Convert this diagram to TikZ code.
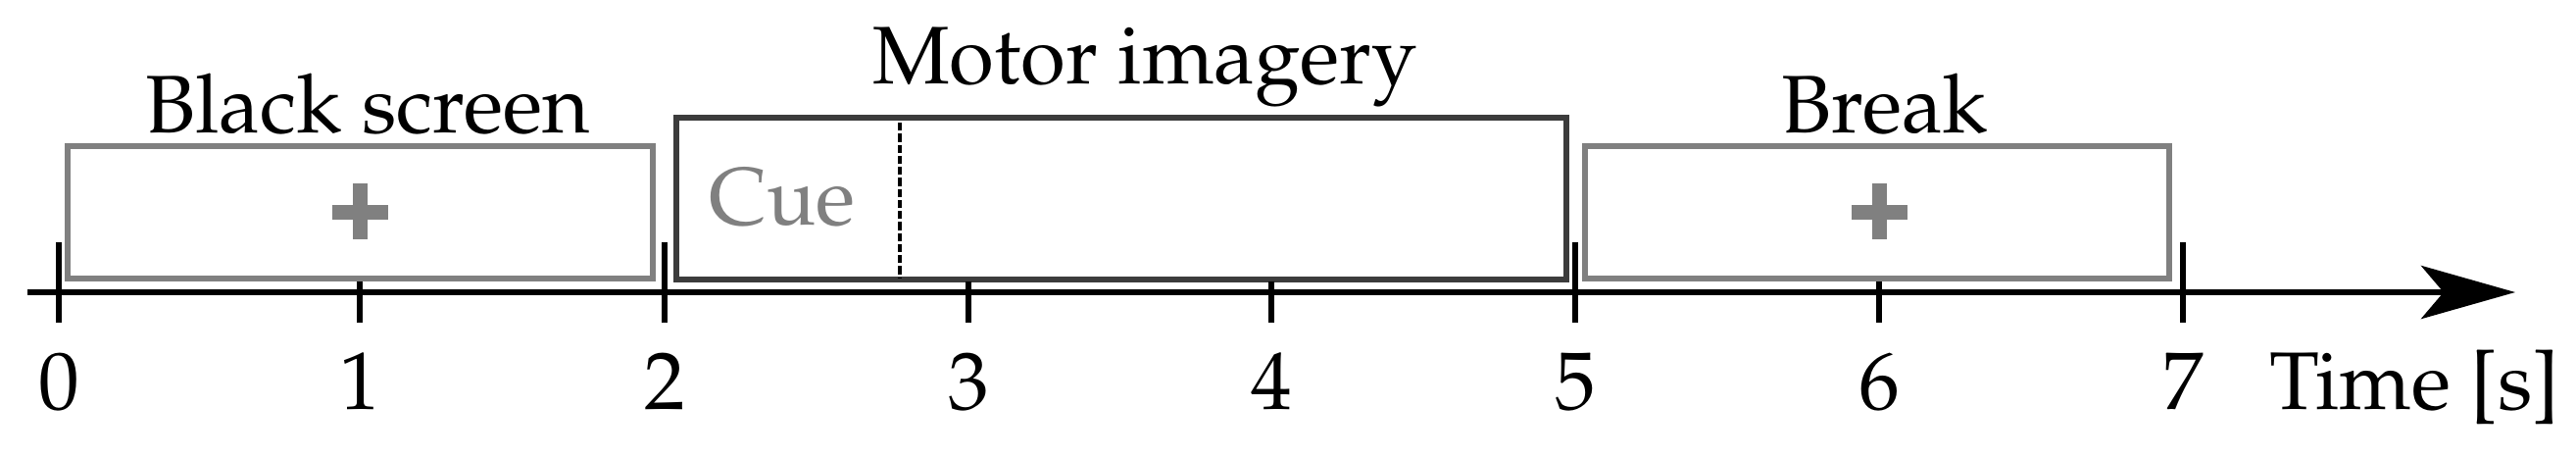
\documentclass[tikz,border=0pt]{standalone}
\usepackage[T1]{fontenc}
\usepackage{mathpazo}
\usetikzlibrary{arrows.meta}
\definecolor{boxgray}{HTML}{808080}
\definecolor{boxdark}{HTML}{3C3C3C}
\begin{document}
\begin{tikzpicture}[x=0.01cm,y=-0.01cm,
  lbl/.style={inner sep=0pt,anchor=base,font=\fontsize{23.7pt}{28pt}\selectfont},
  graybox/.style={draw=boxgray,line width=1.5pt},
  darkbox/.style={draw=boxdark,line width=1.6pt},
  endtick/.style={line width=1.7pt},
  midtick/.style={line width=1.7pt},
  plusbar/.style={fill=boxgray,draw=none}]
\useasboundingbox (0,0) rectangle (2628,466);
% boxes
\draw[graybox] (69,149) rectangle (666,284);
\draw[darkbox] (690,120) rectangle (1598,285);
\draw[graybox] (1617,149) rectangle (2213,284);
% cue separator
\coordinate (cuetop) at (918,125);
\coordinate (cuebot) at (918,284);
\draw[line width=1.3pt,dash pattern=on 2.4pt off 0.8pt] (cuetop) -- (cuebot);
% plus signs
\fill[plusbar] (339,209) rectangle (396,224);
\fill[plusbar] (360,187) rectangle (375,244);
\fill[plusbar] (1889,209) rectangle (1946,224);
\fill[plusbar] (1910,187) rectangle (1925,244);
% axis
\coordinate (axstart) at (28,298);
\coordinate (axend) at (2566,298);
\draw[line width=1.7pt,-{Stealth[length=27.3pt,width=15.4pt,inset=6.5pt]}] (axstart) -- (axend);
% ticks
\foreach \x/\n in {60/0,678/2,1607/5,2227/7}{
  \draw[endtick] (\x,247) -- (\x,329);
}
\foreach \x/\n in {367/1,988/3,1297/4,1917/6}{
  \draw[midtick] (\x,287) -- (\x,329);
}
% labels
\foreach \x/\n in {60/0,367/1,678/2,988/3,1297/4,1607/5,1917/6,2227/7}{
  \node[lbl] (t\n) at (\x,417) {\n};
}
\node[lbl,anchor=base west] (time) at (2315,417) {Time [s]};
\node[lbl] (black) at (375,135) {Black screen};
\node[lbl] (motor) at (1168,85) {Motor imagery};
\node[lbl] (break) at (1923,135) {Break};
\node[lbl,text=boxgray] (cue) at (798,229) {Cue};
\end{tikzpicture}
\end{document}
